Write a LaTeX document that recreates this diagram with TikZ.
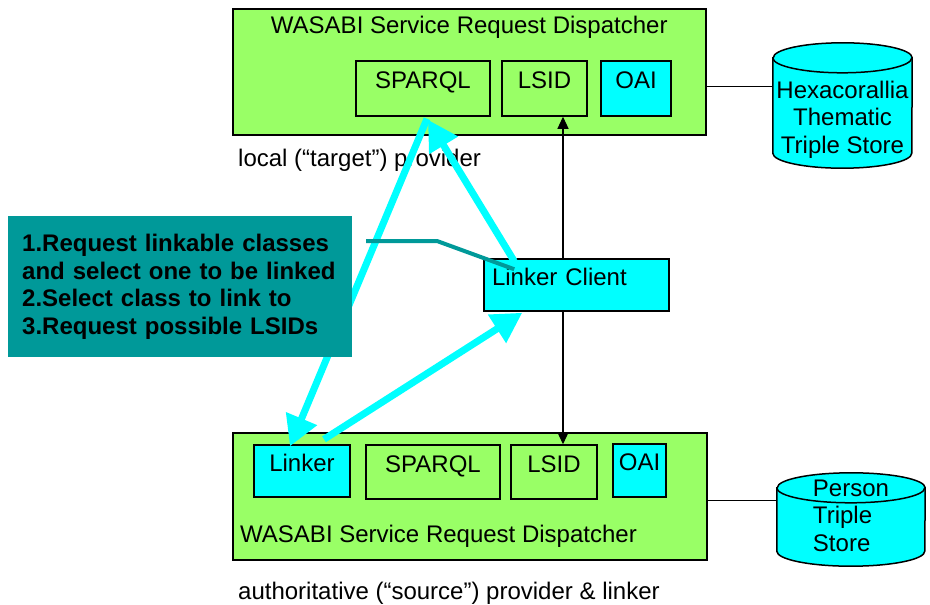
\documentclass[tikz,border=0pt]{standalone}
\usepackage{fontspec}
\setmainfont{Liberation Sans}
\usepackage{tikz}
\usetikzlibrary{shapes.geometric,arrows.meta,positioning,calc}
\definecolor{wgreen}{RGB}{153,255,102}
\definecolor{wcyan}{RGB}{0,255,255}
\definecolor{wteal}{RGB}{0,153,153}
\newcommand{\dfont}{\fontsize{24}{27.6}\selectfont}
\tikzset{
  disp/.style={draw,line width=1.5pt,fill=wgreen,anchor=north west,inner sep=0pt},
  sub/.style={draw,line width=1.5pt,fill=wgreen,font=\dfont,inner sep=0pt,text height=17pt,text depth=17pt},
  subc/.style={sub,fill=wcyan},
  lab/.style={font=\dfont,inner sep=0pt},
  note/.style={fill=wteal,font=\dfont\bfseries,align=left,text width=316pt,inner xsep=14pt,minimum height=141pt,anchor=north west},
  arr/.style={-{Triangle[length=12pt,width=11pt]},line width=1.2pt},
  flow/.style={-{Triangle[length=30pt,width=32pt]},line width=7pt,wcyan},
  callout/.style={line width=4pt,wteal}
}

\begin{document}
\begin{tikzpicture}[x=1pt,y=-1pt]
\newcommand{\cyl}[5]{\path node[minimum width=#3pt,minimum height=#4pt,inner sep=0pt] (#1) at (#2) {};
  \draw[line width=1.5pt,fill=wcyan] ([yshift=-#5pt]#1.north west) -- ([yshift=#5pt]#1.south west)
    arc[start angle=180,end angle=360,x radius=#3pt/2,y radius=#5pt] -- ([yshift=-#5pt]#1.north east)
    arc[start angle=0,end angle=180,x radius=#3pt/2,y radius=#5pt] -- cycle;
  \draw[line width=1.5pt] ([yshift=-#5pt]#1.north west) arc[start angle=180,end angle=360,x radius=#3pt/2,y radius=#5pt];}
\useasboundingbox (0,0) rectangle (930,605);
\node[disp,minimum width=473pt,minimum height=126pt,
  label={[lab,anchor=base,yshift=-25pt]north:WASABI Service Request Dispatcher}] (disA) at (232,8) {};
\node[sub,minimum width=134pt,minimum height=55pt] (spA) at (423,88.5) {SPARQL};
\node[sub,minimum width=85pt,minimum height=55pt] (lsA) at (544.5,88.5) {LSID};
\node[subc,minimum width=70pt,minimum height=55pt] (oaiA) at (636,88.5) {OAI};
\node[lab,anchor=base west] (capA) at (238,166) {local (“target”) provider};
\cyl{hexa}{842.5,105.5}{139}{125}{15}
\node[lab,align=center] (hexaT) at ([yshift=-14pt]hexa.center) {Hexacorallia\\Thematic\\Triple Store};
\node[subc,minimum height=52pt,text width=169pt,inner xsep=8pt,align=left] (lc) at (576.5,285) {Linker Client};
\node[disp,minimum width=474pt,minimum height=127pt,
  label={[lab,anchor=base west,xshift=8pt,yshift=18pt]south west:WASABI Service Request Dispatcher}] (disB) at (232,432) {};
\node[subc,minimum width=96pt,minimum height=52pt] (lnk) at (302,471) {Linker};
\node[sub,minimum width=134pt,minimum height=54pt] (spB) at (433,472) {SPARQL};
\node[sub,minimum width=86pt,minimum height=54pt] (lsB) at (554,472) {LSID};
\node[subc,minimum width=53pt,minimum height=53pt] (oaiB) at (639.5,470.5) {OAI};
\node[lab,anchor=base west] (capB) at (238,599) {authoritative (“source”) provider \& linker};
\cyl{pers}{851,519.5}{148}{93}{15}
\node[lab,align=left] (persT) at ([yshift=4pt]pers.center) {Person\\Triple\\Store};
\draw[line width=1.2pt] ([yshift=-15pt]disA.east) -- ([yshift=-15pt]disA.east -| hexa.west);
\draw[line width=1.2pt] ([yshift=-4pt]disB.east) -- ([yshift=-4pt]disB.east -| pers.west);
\draw[arr] ([xshift=-13.5pt]lc.north) -- ([xshift=-13.5pt]lc.north |- lsA.south);
\draw[arr] ([xshift=-13.5pt]lc.south) -- ([xshift=-13.5pt]lc.south |- lsB.north);
\draw[flow] ([xshift=4pt,yshift=-2pt]spA.south) -- ([xshift=-12pt,yshift=-2pt]lnk.north);
\draw[flow] ([xshift=31pt,yshift=-3pt]lc.north west) -- ([xshift=5pt,yshift=-3pt]spA.south);
\draw[flow] ([xshift=22pt,yshift=5pt]lnk.north) -- ([xshift=39pt,yshift=-1pt]lc.south west);
\node[note] (steps) at (8,216) {1.Request linkable classes\\and select one to be linked\\2.Select class to link to\\3.Request possible LSIDs};
\coordinate (ctail) at (366,241);
\draw[callout] (ctail) -- ++(71,0) -- ([xshift=31pt,yshift=-11pt]lc.north west);
\end{tikzpicture}
\end{document}
